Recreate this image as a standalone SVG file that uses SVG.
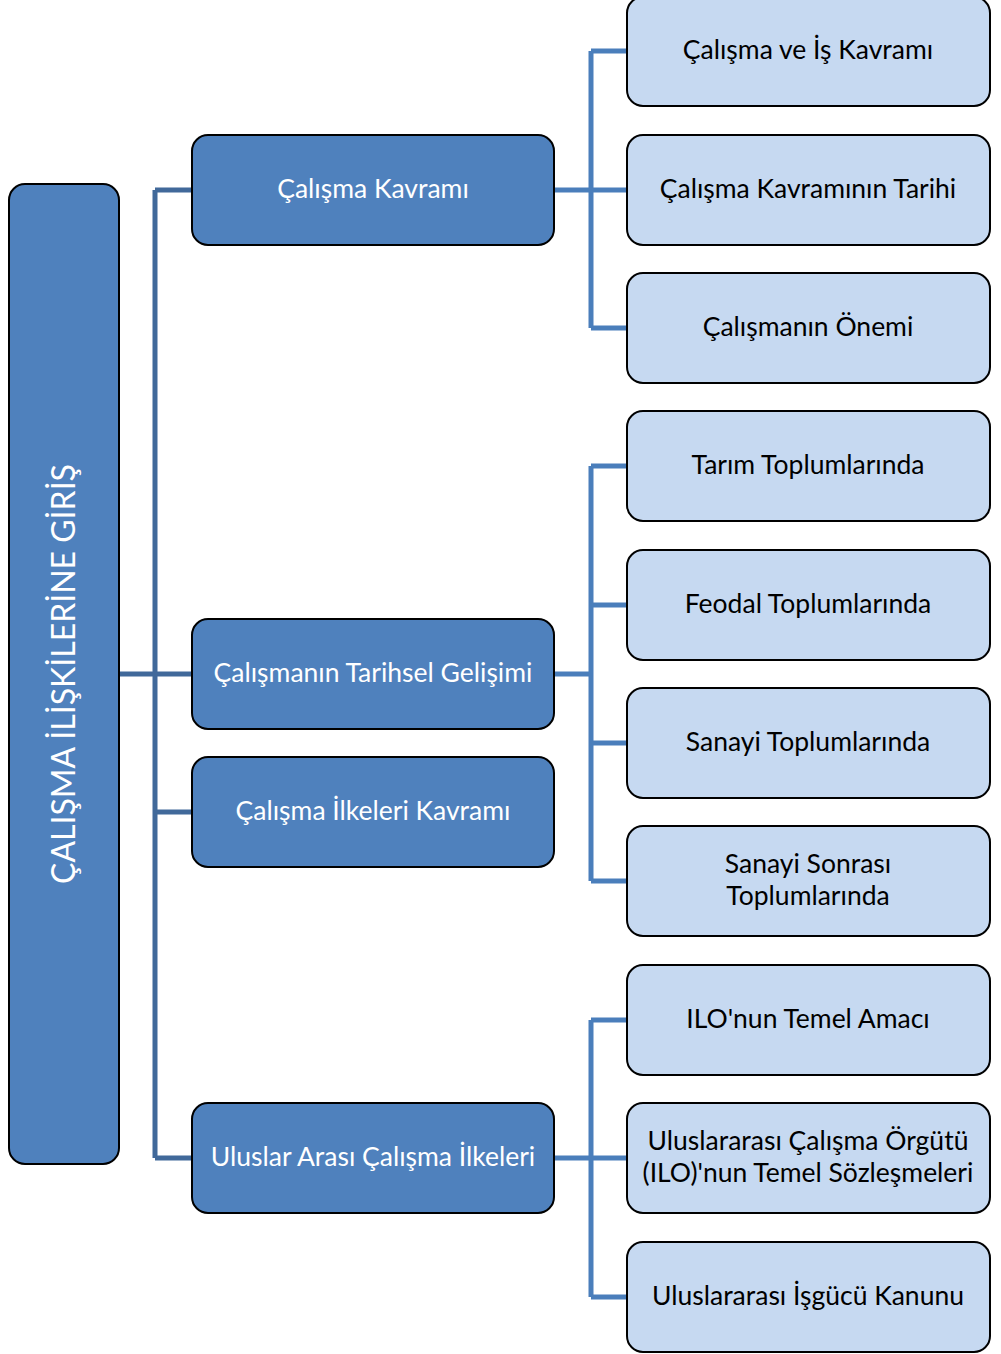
<svg xmlns="http://www.w3.org/2000/svg" width="1001" height="1354" viewBox="0 0 1001 1354">
<style>
.root{fill:#4F81BD;stroke:#000;stroke-width:2}
.l1{fill:#4F81BD;stroke:#000;stroke-width:2}
.l2{fill:#C6D9F1;stroke:#000;stroke-width:2}
.tw{fill:#fff;font-family:Lato,"Liberation Sans",sans-serif;font-size:26.5px;text-anchor:middle;dominant-baseline:central}
.tb{fill:#000;font-family:Lato,"Liberation Sans",sans-serif;font-size:26.5px;text-anchor:middle;dominant-baseline:central}
.c1{fill:none;stroke:#41699A;stroke-width:5}
.c2{fill:none;stroke:#4A7EBB;stroke-width:5}
</style>
<rect width="1001" height="1354" fill="#fff"/>
<g id="connectors">
<path class="c1" d="M119 674H155M155 190V1158M155 190H192M155 674H192M155 812H192M155 1158H192"/>
<path class="c2" d="M554 190H591M591 51V328M591 51H627M591 190H627M591 328H627"/>
<path class="c2" d="M554 674H591M591 466V881M591 466H627M591 605H627M591 743H627M591 881H627"/>
<path class="c2" d="M554 1158H591M591 1020V1297M591 1020H627M591 1158H627M591 1297H627"/>
</g>
<g id="root"><rect class="root" x="9" y="184" width="110" height="980" rx="16"/><text class="tw" style="font-size:32px" transform="translate(62 674) rotate(-90)">ÇALIŞMA İLİŞKİLERİNE GİRİŞ</text></g>
<g id="n1"><rect class="l1" x="192" y="135" width="362" height="110" rx="16"/><text class="tw" x="373" y="188">Çalışma Kavramı</text></g>
<g id="n2"><rect class="l1" x="192" y="619" width="362" height="110" rx="16"/><text class="tw" x="373" y="672">Çalışmanın Tarihsel Gelişimi</text></g>
<g id="n3"><rect class="l1" x="192" y="757" width="362" height="110" rx="16"/><text class="tw" x="373" y="810">Çalışma İlkeleri Kavramı</text></g>
<g id="n4"><rect class="l1" x="192" y="1103" width="362" height="110" rx="16"/><text class="tw" x="373" y="1156">Uluslar Arası Çalışma İlkeleri</text></g>
<g id="c11"><rect class="l2" x="627" y="-3" width="363" height="109" rx="16"/><text class="tb" x="808" y="49">Çalışma ve İş Kavramı</text></g>
<g id="c12"><rect class="l2" x="627" y="135" width="363" height="110" rx="16"/><text class="tb" x="808" y="188">Çalışma Kavramının Tarihi</text></g>
<g id="c13"><rect class="l2" x="627" y="273" width="363" height="110" rx="16"/><text class="tb" x="808" y="326">Çalışmanın Önemi</text></g>
<g id="c21"><rect class="l2" x="627" y="411" width="363" height="110" rx="16"/><text class="tb" x="808" y="464">Tarım Toplumlarında</text></g>
<g id="c22"><rect class="l2" x="627" y="550" width="363" height="110" rx="16"/><text class="tb" x="808" y="603">Feodal Toplumlarında</text></g>
<g id="c23"><rect class="l2" x="627" y="688" width="363" height="110" rx="16"/><text class="tb" x="808" y="741">Sanayi Toplumlarında</text></g>
<g id="c24"><rect class="l2" x="627" y="826" width="363" height="110" rx="16"/><text class="tb" x="808" y="863">Sanayi Sonrası</text><text class="tb" x="808" y="895">Toplumlarında</text></g>
<g id="c31"><rect class="l2" x="627" y="965" width="363" height="110" rx="16"/><text class="tb" x="808" y="1018">ILO'nun Temel Amacı</text></g>
<g id="c32"><rect class="l2" x="627" y="1103" width="363" height="110" rx="16"/><text class="tb" x="808" y="1140">Uluslararası Çalışma Örgütü</text><text class="tb" x="808" y="1172">(ILO)'nun Temel Sözleşmeleri</text></g>
<g id="c33"><rect class="l2" x="627" y="1242" width="363" height="110" rx="16"/><text class="tb" x="808" y="1295">Uluslararası İşgücü Kanunu</text></g>
</svg>
